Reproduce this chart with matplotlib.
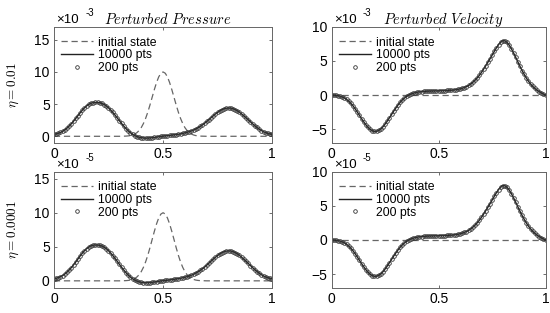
import numpy as np
import matplotlib
matplotlib.use("Agg")
import matplotlib.pyplot as plt

plt.rcParams['font.family'] = ['Liberation Sans', 'DejaVu Sans']
plt.rcParams['mathtext.fontset'] = 'cm'

# grid x = 0, 0.01, ..., 1
x = [i / 100 for i in range(101)]

# initial pressure pulse (dashed), in units of the row exponent
initial = [0.0] * 31 + [
    0.01, 0.02, 0.03, 0.06, 0.11, 0.20, 0.34, 0.56, 0.89, 1.35,
    1.98, 2.78, 3.75, 4.87, 6.07, 7.26, 8.35, 9.23, 9.80, 10.0,
    9.80, 9.23, 8.35, 7.26, 6.07, 4.87, 3.75, 2.78, 1.98, 1.35,
    0.89, 0.56, 0.34, 0.20, 0.11, 0.06, 0.03, 0.02, 0.01,
] + [0.0] * 31
initial = initial[:101]

pressure = [
    0.28, 0.36, 0.46, 0.60, 0.78, 1.00, 1.27, 1.59, 1.95, 2.35,
    2.77, 3.21, 3.64, 4.05, 4.42, 4.73, 4.97, 5.14, 5.23, 5.26,
    5.26, 5.22, 5.11, 4.94, 4.71, 4.42, 4.08, 3.70, 3.29, 2.86,
    2.42, 1.99, 1.58, 1.20, 0.86, 0.56, 0.31, 0.11, -0.04, -0.15,
    -0.22, -0.26, -0.28, -0.28, -0.26, -0.22, -0.17, -0.12, -0.07, -0.02,
    0.02, 0.06, 0.10, 0.14, 0.18, 0.22, 0.27, 0.32, 0.38, 0.45,
    0.53, 0.62, 0.72, 0.84, 0.98, 1.14, 1.32, 1.53, 1.76, 2.02,
    2.30, 2.59, 2.89, 3.18, 3.47, 3.73, 3.96, 4.15, 4.29, 4.37,
    4.40, 4.37, 4.29, 4.15, 3.96, 3.73, 3.46, 3.17, 2.87, 2.56,
    2.25, 1.94, 1.64, 1.37, 1.12, 0.90, 0.72, 0.57, 0.45, 0.36,
    0.30,
]

velocity = [
    0.00, -0.02, -0.05, -0.10, -0.18, -0.29, -0.44, -0.64, -0.90, -1.22,
    -1.60, -2.03, -2.50, -2.99, -3.48, -3.94, -4.37, -4.74, -5.04, -5.25,
    -5.35, -5.33, -5.20, -4.97, -4.65, -4.26, -3.82, -3.34, -2.85, -2.36,
    -1.90, -1.47, -1.08, -0.74, -0.45, -0.21, -0.02, 0.13, 0.25, 0.34,
    0.41, 0.46, 0.50, 0.53, 0.55, 0.57, 0.58, 0.59, 0.60, 0.61,
    0.62, 0.63, 0.64, 0.65, 0.67, 0.69, 0.71, 0.74, 0.78, 0.83,
    0.90, 0.99, 1.10, 1.24, 1.41, 1.62, 1.87, 2.16, 2.50, 2.88,
    3.32, 3.80, 4.30, 4.80, 5.32, 5.85, 6.40, 6.93, 7.40, 7.78,
    7.98, 7.95, 7.72, 7.32, 6.80, 6.20, 5.55, 4.88, 4.22, 3.60,
    3.02, 2.50, 2.03, 1.62, 1.27, 0.97, 0.71, 0.49, 0.30, 0.14,
    0.00,
]
zero_line = [0.0] * 101

row_labels = [r'$\eta = 0.01$', r'$\eta = 0.0001$']
exponents = ['-3', '-5']
titles = [r'$Perturbed\ Pressure$', r'$Perturbed\ Velocity$']
ylims = [[(-1, 17), (-7, 10)], [(-1, 16), (-7, 10)]]
yticks = [[0, 5, 10, 15], [-5, 0, 5, 10]]

fig = plt.figure(figsize=(5.5, 3.13), dpi=100)
lefts = [0.098, 0.603]
widths = [0.397, 0.389]
bottoms = [0.544, 0.081]
h = 0.370

for r in range(2):
    for c in range(2):
        ax = fig.add_axes([lefts[c], bottoms[r], widths[c], h])
        init = initial if c == 0 else zero_line
        vals = pressure if c == 0 else velocity
        ax.plot(x, init, color='#666666', lw=0.9, dashes=(5, 3), label='initial state')
        ax.plot(x, vals, color='#222222', lw=1.0, label='10000 pts')
        ax.plot(x, vals, ls='none', marker='o', ms=2.6, mfc='none',
                mec='#333333', mew=0.6, label='200 pts')
        ax.set_xlim(0, 1)
        ax.set_ylim(*ylims[r][c])
        ax.set_xticks([0, 0.5, 1])
        ax.set_xticklabels(['0', '0.5', '1'])
        ax.set_yticks(yticks[c])
        ax.tick_params(direction='in', length=2.5, width=0.6, labelsize=10,
                       top=True, right=True, color='#555555', pad=3)
        for s in ax.spines.values():
            s.set_color('#666666')
            s.set_linewidth(0.7)
        ax.legend(loc='upper left', frameon=False, fontsize=8.8,
                  handlelength=2.6, labelspacing=0.05,
                  borderaxespad=0.2, handletextpad=0.4,
                  bbox_to_anchor=(0.0, 0.98))
        # exponent marker above the axes
        ax.text(0.01, 1.005, '×10', transform=ax.transAxes, fontsize=9.5,
                ha='left', va='bottom')
        ax.annotate(exponents[r], xy=(0.01, 1.005), xycoords='axes fraction',
                    xytext=(21, 6), textcoords='offset points', fontsize=7,
                    ha='left', va='bottom')
        if r == 0:
            ax.set_title(titles[c], fontsize=10.5, pad=2, x=0.52)
        if c == 0:
            ax.set_ylabel(row_labels[r], fontsize=9.5)
            ax.yaxis.set_label_coords(-0.15, 0.5)
        if r == 1:
            ax.set_xlabel(r'$x$', fontsize=9)
            ax.xaxis.set_label_coords(0.5, -0.2)

fig.savefig('out.png', dpi=100)
